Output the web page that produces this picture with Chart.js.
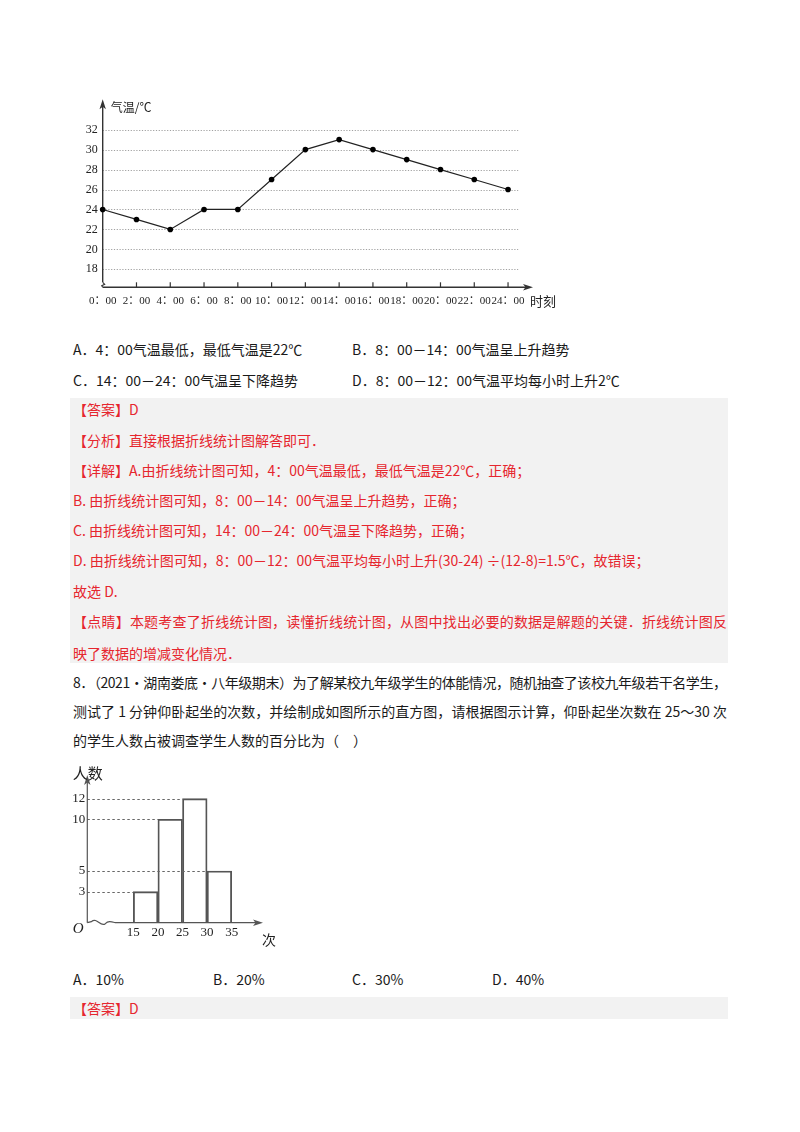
<!DOCTYPE html>
<html><head><meta charset="utf-8">
<script src="https://cdn.jsdelivr.net/npm/chart.js@4.4.1/dist/chart.umd.min.js"></script>
<style>
html,body{margin:0;padding:0;background:#fff;}
#page{position:relative;width:800px;height:1132px;overflow:hidden;font-family:'Noto Sans CJK SC','Noto Sans',sans-serif;font-size:14px;color:#1a1a1a;}
.t{position:absolute;white-space:nowrap;line-height:20px;}
.r{color:#e6262e;}
.fit{display:inline-block;}
.box{position:absolute;left:70px;width:658px;background:#f2f2f2;}
canvas{position:absolute;}
</style></head>
<body><div id="page">
<canvas id="c1" width="500" height="225" style="left:60px;top:90px;width:500px;height:225px"></canvas>

<div class="t" style="left:73px;top:339px">A．4：00气温最低，最低气温是22℃</div>
<div class="t" style="left:352px;top:339px">B．8：00－14：00气温呈上升趋势</div>
<div class="t" style="left:73px;top:369.5px">C．14：00－24：00气温呈下降趋势</div>
<div class="t" style="left:352px;top:369.5px">D．8：00－12：00气温平均每小时上升2℃</div>

<div class="box" style="top:398px;height:265px"></div>
<div class="t r" style="left:73px;top:399px">【答案】D</div>
<div class="t r" style="left:73px;top:430px">【分析】直接根据折线统计图解答即可．</div>
<div class="t r" style="left:73px;top:459.5px">【详解】A.由折线统计图可知，4：00气温最低，最低气温是22℃，正确；</div>
<div class="t r" style="left:73px;top:489.5px">B. 由折线统计图可知，8：00－14：00气温呈上升趋势，正确；</div>
<div class="t r" style="left:73px;top:520px">C. 由折线统计图可知，14：00－24：00气温呈下降趋势，正确；</div>
<div class="t r" style="left:73px;top:550px">D. 由折线统计图可知，8：00－12：00气温平均每小时上升(30-24) ÷(12-8)=1.5℃，故错误；</div>
<div class="t r" style="left:73px;top:580.5px">故选 D.</div>
<div class="t r" style="left:73px;top:611px"><span class="fit" data-w="654">【点睛】本题考查了折线统计图，读懂折线统计图，从图中找出必要的数据是解题的关键．折线统计图反</span></div>
<div class="t r" style="left:73px;top:642.5px">映了数据的增减变化情况．</div>

<div class="t" style="left:73px;top:672px"><span class="fit" data-w="654">8．（2021·湖南娄底·八年级期末）为了解某校九年级学生的体能情况，随机抽查了该校九年级若干名学生，</span></div>
<div class="t" style="left:73px;top:701px"><span class="fit" data-w="654">测试了 1 分钟仰卧起坐的次数，并绘制成如图所示的直方图，请根据图示计算，仰卧起坐次数在 25～30 次</span></div>
<div class="t" style="left:73px;top:730px">的学生人数占被调查学生人数的百分比为（　）</div>

<canvas id="c2" width="230" height="185" style="left:60px;top:765px;width:230px;height:185px"></canvas>

<div class="t" style="left:73px;top:968.5px">A．10%</div>
<div class="t" style="left:213px;top:968.5px">B．20%</div>
<div class="t" style="left:352px;top:968.5px">C．30%</div>
<div class="t" style="left:492px;top:968.5px">D．40%</div>

<div class="box" style="top:997px;height:22px"></div>
<div class="t r" style="left:73px;top:998px">【答案】D</div>
</div>

<script>
// ---------- data: line chart ----------
const hours = [0, 2, 4, 6, 8, 10, 12, 14, 16, 18, 20, 22, 24];
const temps = [24, 23, 22, 24, 24, 27, 30, 31, 30, 29, 28, 27, 26];
const tempTicks = [18, 20, 22, 24, 26, 28, 30, 32];
const lineYTitle = '气温/℃';
const lineXTitle = '时刻';

// ---------- data: histogram ----------
const binEdges = [15, 20, 25, 30, 35];
const counts = [3, 10, 12, 5];
const countTicks = [3, 5, 10, 12];
const histYTitle = '人数';
const histXTitle = '次';
const originLabel = 'O';

// fit justified lines
document.querySelectorAll('.fit').forEach(el => {
  el.style.letterSpacing = '0px';
  const w = el.getBoundingClientRect().width;
  const n = [...el.textContent].length;
  el.style.letterSpacing = ((+el.dataset.w - w) / (n - 1)) + 'px';
});

const serif = "'Liberation Serif','Times New Roman','Noto Sans CJK SC',serif";
const cjk = "'Noto Sans CJK SC',sans-serif";

function arrowUp(ctx, x, y) {
  ctx.beginPath(); ctx.moveTo(x, y - 3); ctx.lineTo(x - 3.2, y + 7); ctx.lineTo(x, y + 4.5); ctx.lineTo(x + 3.2, y + 7); ctx.closePath(); ctx.fill();
}
function arrowRight(ctx, x, y) {
  ctx.beginPath(); ctx.moveTo(x + 3, y); ctx.lineTo(x - 7, y - 3.2); ctx.lineTo(x - 4.5, y); ctx.lineTo(x - 7, y + 3.2); ctx.closePath(); ctx.fill();
}

// ---------- line chart ----------
const lineDeco = {
  id: 'lineDeco',
  beforeDatasetsDraw(chart) {
    const {ctx, chartArea: a, scales: {x, y}} = chart;
    ctx.save();
    ctx.strokeStyle = '#a0a0a0'; ctx.lineWidth = 1; ctx.setLineDash([1.2, 1.6]);
    const xe = x.getPixelForValue(24.6);
    tempTicks.forEach(v => {
      const py = Math.round(y.getPixelForValue(v)) + 0.5;
      ctx.beginPath(); ctx.moveTo(a.left, py); ctx.lineTo(xe, py); ctx.stroke();
    });
    ctx.setLineDash([]);
    ctx.strokeStyle = '#333'; ctx.fillStyle = '#333'; ctx.lineWidth = 1.4;
    ctx.beginPath(); ctx.moveTo(a.left, a.bottom - 5); ctx.lineTo(a.left, a.top + 2); ctx.stroke();
    // small axis break at origin
    ctx.lineWidth = 1.1;
    ctx.beginPath(); ctx.moveTo(a.left, a.bottom - 5); ctx.lineTo(a.left + 2, a.bottom - 3); ctx.lineTo(a.left - 1, a.bottom - 1.5); ctx.lineTo(a.left, a.bottom); ctx.stroke();
    ctx.lineWidth = 1.4;
    ctx.beginPath(); ctx.moveTo(a.left, a.bottom); ctx.lineTo(a.right - 2, a.bottom); ctx.stroke();
    arrowUp(ctx, a.left, a.top);
    arrowRight(ctx, a.right, a.bottom);
    ctx.lineWidth = 1.2;
    hours.forEach(h => {
      if (h === 0) return;
      const px = x.getPixelForValue(h);
      ctx.beginPath(); ctx.moveTo(px, a.bottom); ctx.lineTo(px, a.bottom - 5); ctx.stroke();
    });
    ctx.fillStyle = '#222'; ctx.textBaseline = 'middle'; ctx.textAlign = 'left';
    ctx.font = '12px ' + cjk;
    ctx.fillText(lineYTitle, a.left + 8, a.top + 5);
    ctx.font = '13px ' + cjk;
    ctx.fillText(lineXTitle, a.right + 0, a.bottom + 13.5);
    ctx.restore();
  }
};

new Chart(document.getElementById('c1'), {
  type: 'line',
  data: {
    datasets: [{
      data: hours.map((h, i) => ({x: h, y: temps[i]})),
      borderColor: '#222', borderWidth: 1.2, tension: 0,
      pointRadius: 2.8, pointBackgroundColor: '#000', pointBorderColor: '#000', pointBorderWidth: 0,
      clip: false
    }]
  },
  options: {
    responsive: false, animation: false,
    layout: {padding: {left: 0, right: 30, top: 10, bottom: 0}},
    plugins: {legend: {display: false}, tooltip: {enabled: false}},
    scales: {
      x: {
        type: 'linear', min: 0, max: 25.3, offset: false,
        afterBuildTicks: s => { s.ticks = hours.map(v => ({value: v})); },
        afterFit: s => { s.height = 27.7; },
        grid: {display: false, drawTicks: false}, border: {display: false},
        ticks: {autoSkip: false, maxRotation: 0, minRotation: 0, padding: 7, color: '#222',
          font: {family: serif, size: 11}, callback: v => v + '：00'}
      },
      y: {
        type: 'linear', min: 16.2, max: 34.75,
        afterBuildTicks: s => { s.ticks = tempTicks.map(v => ({value: v})); },
        afterFit: s => { s.width = 42.7; },
        grid: {display: false, drawTicks: false}, border: {display: false},
        ticks: {padding: 5, color: '#222', font: {family: serif, size: 12}}
      }
    }
  },
  plugins: [lineDeco]
});

// ---------- histogram ----------
const histDeco = {
  id: 'histDeco',
  afterDatasetsDraw(chart) {
    const {ctx, chartArea: a, scales: {x, y}} = chart;
    ctx.save();
    ctx.strokeStyle = '#666'; ctx.lineWidth = 1.1; ctx.setLineDash([2.5, 2.5]);
    counts.forEach((c, i) => {
      const py = Math.round(y.getPixelForValue(c)) + 0.5;
      ctx.beginPath(); ctx.moveTo(a.left, py); ctx.lineTo(x.getPixelForValue(binEdges[i]), py); ctx.stroke();
    });
    ctx.setLineDash([]);
    ctx.strokeStyle = '#555'; ctx.fillStyle = '#555'; ctx.lineWidth = 1.2;
    ctx.beginPath(); ctx.moveTo(a.left, a.bottom); ctx.lineTo(a.left, a.top + 2); ctx.stroke();
    arrowUp(ctx, a.left, a.top);
    const b = a.bottom, l = a.left;
    ctx.beginPath(); ctx.moveTo(l, b); ctx.lineTo(l + 4, b - 1);
    ctx.bezierCurveTo(l + 10, b - 6, l + 13, b + 5, l + 18, b + 1);
    ctx.bezierCurveTo(l + 21, b - 2, l + 24, b - 1, l + 28, b);
    ctx.lineTo(a.right - 2, b); ctx.stroke();
    arrowRight(ctx, a.right, b);
    ctx.fillStyle = '#222'; ctx.textBaseline = 'middle';
    ctx.textAlign = 'left';
    ctx.font = '15px ' + cjk;
    ctx.fillText(histYTitle, l - 14.5, a.top - 5);
    ctx.font = '14px ' + cjk;
    ctx.fillText(histXTitle, a.right + 2, b + 17);
    ctx.font = 'italic 15px ' + serif;
    ctx.fillText(originLabel, l - 14.5, b + 6);
    ctx.restore();
  }
};

new Chart(document.getElementById('c2'), {
  type: 'bar',
  data: {
    datasets: [{
      data: counts.map((c, i) => ({x: (binEdges[i] + binEdges[i + 1]) / 2, y: c})),
      backgroundColor: 'rgba(0,0,0,0)', borderColor: '#555', borderWidth: 1.2,
      barPercentage: 1, categoryPercentage: 1
    }]
  },
  options: {
    responsive: false, animation: false,
    layout: {padding: {left: 0, right: 30, top: 13, bottom: 0}},
    plugins: {legend: {display: false}, tooltip: {enabled: false}},
    scales: {
      x: {
        type: 'linear', min: 5.65, max: 40.75, offset: false,
        afterBuildTicks: s => { s.ticks = binEdges.map(v => ({value: v})); },
        afterFit: s => { s.height = 27.3; },
        grid: {display: false, drawTicks: false}, border: {display: false},
        ticks: {autoSkip: false, maxRotation: 0, minRotation: 0, padding: 2, color: '#222',
          font: {family: serif, size: 13}}
      },
      y: {
        type: 'linear', min: 0, max: 14,
        afterBuildTicks: s => { s.ticks = countTicks.map(v => ({value: v})); },
        afterFit: s => { s.width = 27.3; },
        grid: {display: false, drawTicks: false}, border: {display: false},
        ticks: {padding: 2, color: '#222', font: {family: serif, size: 13}}
      }
    }
  },
  plugins: [histDeco]
});
</script>
</body></html>
